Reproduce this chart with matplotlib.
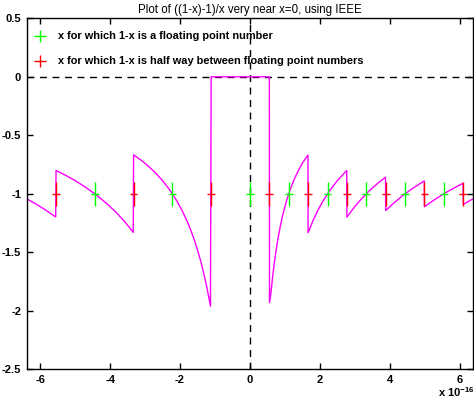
import numpy as np
import matplotlib
matplotlib.use("Agg")
import matplotlib.pyplot as plt

plt.rcParams['font.family'] = ['Liberation Sans', 'DejaVu Sans']
plt.rcParams['font.weight'] = 'bold'

# curve, x in units of 1e-16
curve_x = [-6.4, -6.1, -5.85, -5.56,
           -5.55, -5.3, -5.0, -4.7, -4.4, -4.1, -3.85, -3.6, -3.45, -3.34,
           -3.33, -3.1, -2.9, -2.7, -2.5, -2.3, -2.1, -1.95, -1.8, -1.7, -1.6,
           -1.5, -1.4, -1.32, -1.25, -1.19, -1.13,
           -1.11, 0.555,
           0.56, 0.6, 0.65, 0.7, 0.75, 0.8, 0.87, 0.95, 1.05, 1.15, 1.27, 1.4, 1.53, 1.66,
           1.665, 1.8, 1.95, 2.1, 2.3, 2.5, 2.77,
           2.775, 2.95, 3.15, 3.4, 3.65, 3.88,
           3.885, 4.1, 4.35, 4.65, 4.99,
           4.995, 5.3, 5.6, 5.85, 6.1,
           6.105, 6.25, 6.4]
curve_y = [-1.041, -1.092, -1.138, -1.198,
           -0.8, -0.838, -0.888, -0.945, -1.009, -1.083, -1.153, -1.233, -1.287, -1.33,
           -0.667, -0.716, -0.766, -0.822, -0.888, -0.965, -1.057, -1.138, -1.233, -1.306, -1.388,
           -1.48, -1.586, -1.682, -1.776, -1.866, -1.96,
           0.0, 0.0,
           -1.93, -1.85, -1.708, -1.586, -1.48, -1.388, -1.276, -1.168, -1.057, -0.965, -0.874, -0.793, -0.725, -0.669,
           -1.333, -1.233, -1.138, -1.057, -0.965, -0.888, -0.801,
           -1.2, -1.129, -1.057, -0.979, -0.912, -0.858,
           -1.143, -1.083, -1.021, -0.955, -0.89,
           -1.111, -1.047, -0.991, -0.949, -0.91,
           -1.091, -1.066, -1.04]

green_x = [-4.44, -2.22, 0.0, 1.11, 2.22, 3.33, 4.44, 5.55]
red_x = [-5.55, -3.33, -1.11, 0.555, 1.665, 2.775, 3.885, 4.995, 6.105]

fig = plt.figure(figsize=(4.74, 4.03), dpi=100)
ax = fig.add_axes([0.0563, 0.0836, 0.942, 0.871])

ax.axhline(0, color='black', lw=1, ls=(0, (5, 4)))
ax.axvline(0, color='black', lw=1, ls=(0, (5, 4)))

ax.plot(curve_x, curve_y, color='#ff00ff', lw=1)

ax.errorbar(green_x, [-1] * len(green_x), xerr=0.11, yerr=0.105,
            fmt='none', ecolor='#00ff00', elinewidth=1.0, capsize=0)
ax.errorbar(red_x, [-1] * len(red_x), xerr=0.11, yerr=0.105,
            fmt='none', ecolor='#ff0000', elinewidth=1.0, capsize=0)

# legend entries
ax.plot([-6.0], [0.35], marker='+', color='#00ff00', ms=9, mew=1.0)
ax.plot([-6.0], [0.135], marker='+', color='#ff0000', ms=9, mew=1.0)
ax.text(-5.5, 0.35, 'x for which 1-x is a floating point number',
        fontsize=7.9, va='center', ha='left')
ax.text(-5.5, 0.135, 'x for which 1-x is half way between floating point numbers',
        fontsize=7.9, va='center', ha='left')

ax.set_xlim(-6.39, 6.39)
ax.set_ylim(-2.5, 0.5)
ax.set_xticks([-6, -4, -2, 0, 2, 4, 6])
ax.set_xticklabels(['-6', '-4', '-2', '0', '2', '4', '6'])
ax.set_yticks([-2.5, -2, -1.5, -1, -0.5, 0, 0.5])
ax.set_yticklabels(['-2.5', '-2', '-1.5', '-1', '-0.5', '0', '0.5'])
ax.tick_params(direction='in', top=True, right=True, length=4, width=1,
               labelsize=8, pad=4)
for s in ax.spines.values():
    s.set_linewidth(1)

ax.set_title('Plot of ((1-x)-1)/x very near x=0, using IEEE', fontsize=8.3, pad=4)
fig.text(0.925, 0.01, r'x 10$^{\mathregular{-16}}$', fontsize=8, ha='left', va='bottom')

fig.savefig('out.png', dpi=100)
